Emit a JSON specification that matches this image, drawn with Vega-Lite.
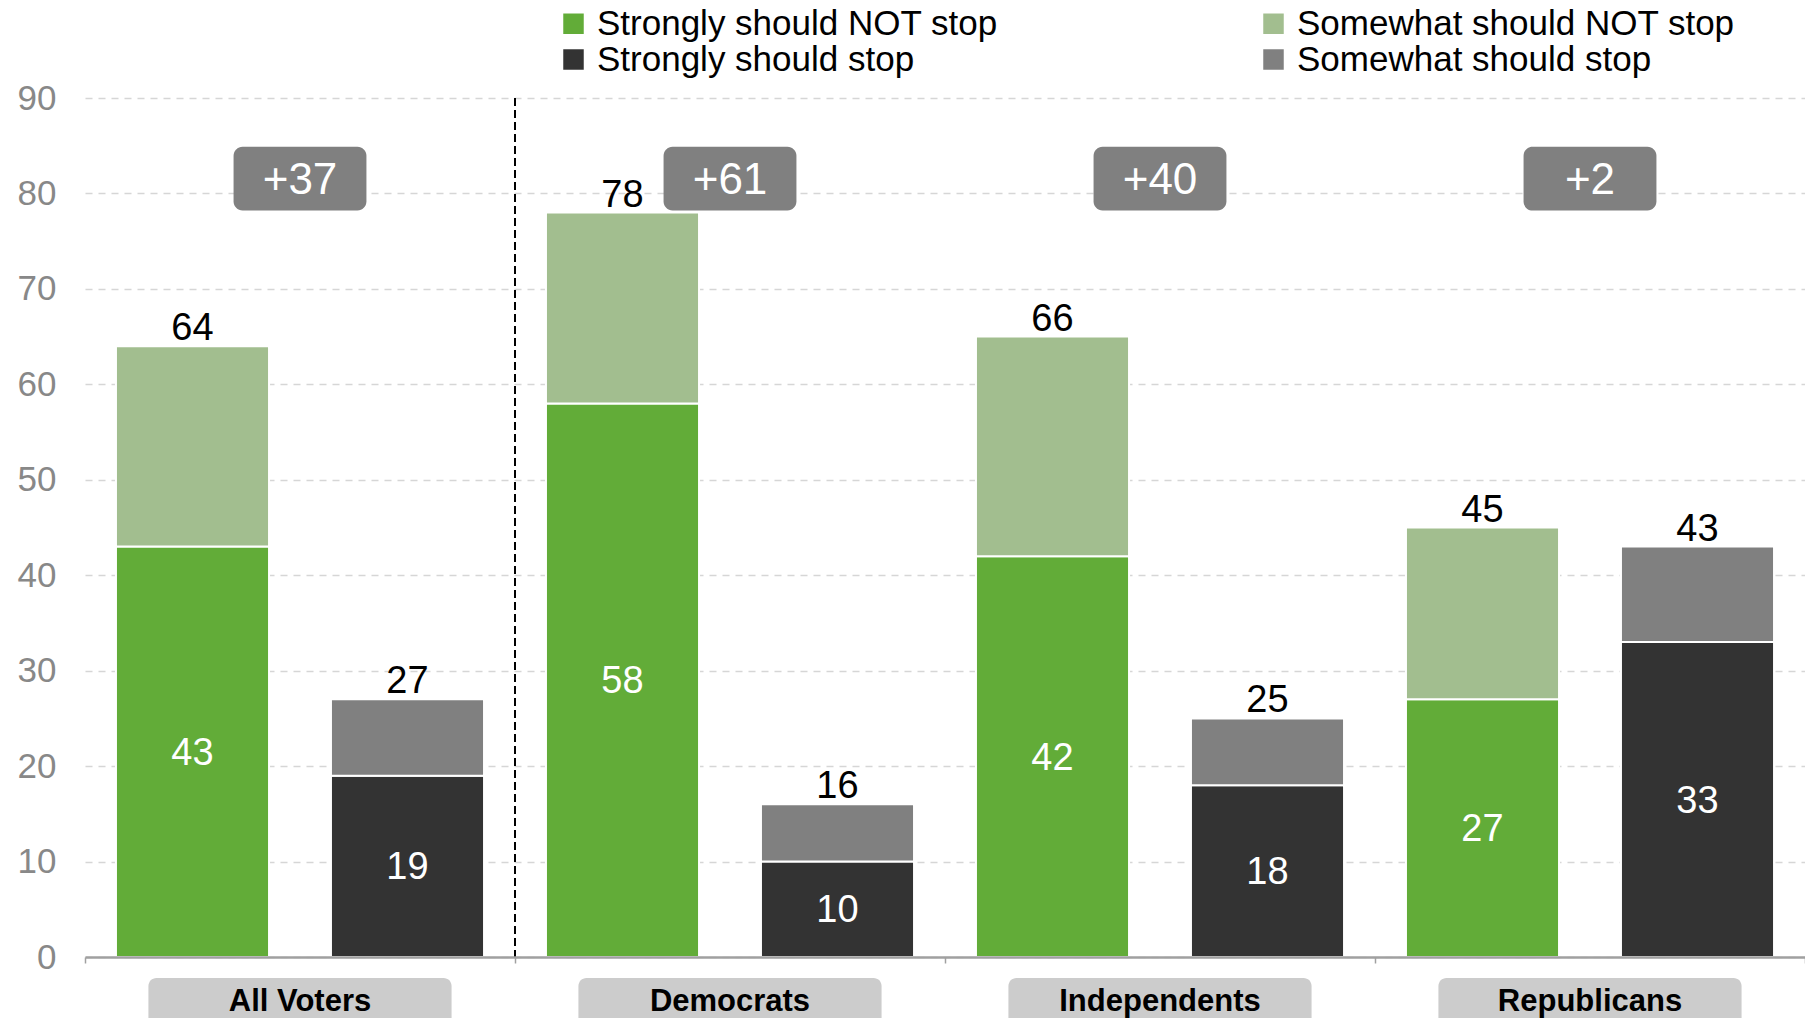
{
  "$schema": "https://vega.github.io/schema/vega-lite/v6.json",
  "autosize": {"type": "none"},
  "width": 1720,
  "height": 859,
  "padding": {"left": 85, "top": 98, "right": 0, "bottom": 61},
  "background": "white",
  "config": {
    "view": {"stroke": null},
    "font": "Liberation Sans",
    "text": {"font": "Liberation Sans"}
  },
  "datasets": {
    "bars": [
      {"group": "All Voters", "side": "not", "level": "Strongly should NOT stop", "strength": "Strongly", "value": 43, "total": 64},
      {"group": "All Voters", "side": "not", "level": "Somewhat should NOT stop", "strength": "Somewhat", "value": 21, "total": 64},
      {"group": "All Voters", "side": "stop", "level": "Strongly should stop", "strength": "Strongly", "value": 19, "total": 27},
      {"group": "All Voters", "side": "stop", "level": "Somewhat should stop", "strength": "Somewhat", "value": 8, "total": 27},
      {"group": "Democrats", "side": "not", "level": "Strongly should NOT stop", "strength": "Strongly", "value": 58, "total": 78},
      {"group": "Democrats", "side": "not", "level": "Somewhat should NOT stop", "strength": "Somewhat", "value": 20, "total": 78},
      {"group": "Democrats", "side": "stop", "level": "Strongly should stop", "strength": "Strongly", "value": 10, "total": 16},
      {"group": "Democrats", "side": "stop", "level": "Somewhat should stop", "strength": "Somewhat", "value": 6, "total": 16},
      {"group": "Independents", "side": "not", "level": "Strongly should NOT stop", "strength": "Strongly", "value": 42, "total": 66},
      {"group": "Independents", "side": "not", "level": "Somewhat should NOT stop", "strength": "Somewhat", "value": 23, "total": 66},
      {"group": "Independents", "side": "stop", "level": "Strongly should stop", "strength": "Strongly", "value": 18, "total": 25},
      {"group": "Independents", "side": "stop", "level": "Somewhat should stop", "strength": "Somewhat", "value": 7, "total": 25},
      {"group": "Republicans", "side": "not", "level": "Strongly should NOT stop", "strength": "Strongly", "value": 27, "total": 45},
      {"group": "Republicans", "side": "not", "level": "Somewhat should NOT stop", "strength": "Somewhat", "value": 18, "total": 45},
      {"group": "Republicans", "side": "stop", "level": "Strongly should stop", "strength": "Strongly", "value": 33, "total": 43},
      {"group": "Republicans", "side": "stop", "level": "Somewhat should stop", "strength": "Somewhat", "value": 10, "total": 43}
    ],
    "groups": [
      {"group": "All Voters", "margin": "+37"},
      {"group": "Democrats", "margin": "+61"},
      {"group": "Independents", "margin": "+40"},
      {"group": "Republicans", "margin": "+2"}
    ],
    "divider": [
      {"group": "Democrats"}
    ]
  },
  "encoding": {
    "x": {
      "field": "group",
      "type": "nominal",
      "scale": {"domain": ["All Voters", "Democrats", "Independents", "Republicans"], "paddingInner": 0, "paddingOuter": 0},
      "axis": {
        "title": null,
        "labels": false,
        "ticks": true,
        "tickBand": "extent",
        "tickColor": "#a0a0a0",
        "tickSize": 6,
        "tickWidth": 1.5,
        "domainColor": "#a0a0a0",
        "domainWidth": 2.5,
        "grid": false,
        "zindex": 2
      }
    }
  },
  "layer": [
    {
      "data": {"name": "bars"},
      "mark": {"type": "bar", "stroke": "white", "strokeWidth": 2},
      "encoding": {
        "xOffset": {"field": "side", "type": "nominal", "scale": {"domain": ["not", "stop"], "paddingInner": 0.288, "paddingOuter": 0.144}},
        "y": {
          "field": "value",
          "type": "quantitative",
          "stack": "zero",
          "scale": {"domain": [0, 90], "nice": false},
          "axis": {
            "title": null,
            "values": [0, 10, 20, 30, 40, 50, 60, 70, 80, 90],
            "domain": false,
            "ticks": false,
            "labelFontSize": 35,
            "labelColor": "#888888",
            "labelFont": "Liberation Sans",
            "labelPadding": 29,
            "grid": true,
            "gridColor": "#d6d6d6",
            "gridDash": [7, 6],
            "gridWidth": 1.5
          }
        },
        "color": {
          "field": "level",
          "type": "nominal",
          "scale": {
            "domain": ["Strongly should NOT stop", "Somewhat should NOT stop", "Strongly should stop", "Somewhat should stop"],
            "range": ["#62ac38", "#a2be8f", "#333333", "#808080"]
          },
          "legend": {
            "title": null,
            "orient": "none",
            "legendX": 471,
            "legendY": -92,
            "direction": "horizontal",
            "columns": 2,
            "columnPadding": 258,
            "rowPadding": -1,
            "padding": 0,
            "symbolType": "square",
            "symbolSize": 420,
            "symbolStrokeWidth": 0,
            "labelFontSize": 35,
            "labelColor": "#000000",
            "labelFont": "Liberation Sans",
            "labelOffset": 6,
            "labelLimit": 600
          }
        },
        "order": {"field": "strength", "sort": "descending"}
      }
    },
    {
      "data": {"name": "bars"},
      "transform": [{"filter": "datum.strength === 'Strongly'"}],
      "mark": {"type": "text", "color": "white", "fontSize": 38, "baseline": "middle", "dy": 2},
      "encoding": {
        "xOffset": {"field": "side", "type": "nominal", "scale": {"domain": ["not", "stop"], "paddingInner": 0.288, "paddingOuter": 0.144}},
        "y": {"field": "value", "type": "quantitative", "stack": "zero", "bandPosition": 0.5},
        "text": {"field": "value", "type": "quantitative"}
      }
    },
    {
      "data": {"name": "bars"},
      "transform": [
        {"aggregate": [{"op": "sum", "field": "value", "as": "top"}], "groupby": ["group", "side", "total"]}
      ],
      "mark": {"type": "text", "color": "black", "fontSize": 38, "baseline": "alphabetic", "dy": -6},
      "encoding": {
        "xOffset": {"field": "side", "type": "nominal", "scale": {"domain": ["not", "stop"], "paddingInner": 0.288, "paddingOuter": 0.144}},
        "y": {"field": "top", "type": "quantitative"},
        "text": {"field": "total", "type": "quantitative"}
      }
    },
    {
      "data": {"name": "divider"},
      "mark": {"type": "rule", "color": "black", "strokeWidth": 2, "strokeDash": [8, 4]},
      "encoding": {
        "x": {"field": "group", "type": "nominal", "bandPosition": 0},
        "y": {"datum": 90},
        "y2": {"datum": -0.3}
      }
    },
    {
      "data": {"name": "groups"},
      "mark": {"type": "bar", "color": "#808080", "cornerRadius": 9, "width": {"band": 0.309}},
      "encoding": {
        "y": {"datum": 78.2},
        "y2": {"datum": 84.9}
      }
    },
    {
      "data": {"name": "groups"},
      "mark": {"type": "text", "color": "white", "fontSize": 44, "baseline": "middle", "dy": 2},
      "encoding": {
        "y": {"datum": 81.55},
        "text": {"field": "margin", "type": "nominal"}
      }
    },
    {
      "data": {"name": "groups"},
      "mark": {"type": "bar", "color": "#cccccc", "cornerRadius": 8, "width": {"band": 0.705}},
      "encoding": {
        "y": {"datum": -2.2},
        "y2": {"datum": -8}
      }
    },
    {
      "data": {"name": "groups"},
      "mark": {"type": "text", "color": "black", "fontSize": 31, "fontWeight": "bold", "baseline": "middle", "dy": 2},
      "encoding": {
        "y": {"datum": -4.5},
        "text": {"field": "group", "type": "nominal"}
      }
    }
  ]
}
